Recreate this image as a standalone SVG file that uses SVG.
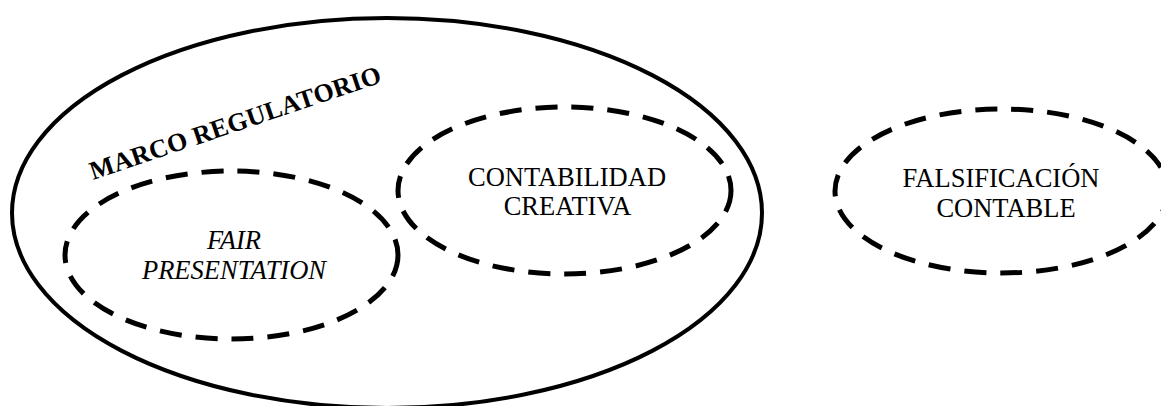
<svg xmlns="http://www.w3.org/2000/svg" width="1161" height="406" viewBox="0 0 1161 406">
  <style>
    .frame { fill: none; stroke: #000; stroke-width: 4; }
    .dash { fill: none; stroke: #000; stroke-width: 5; stroke-dasharray: 22 14; }
    .lbl { font-family: "Liberation Serif", "Times New Roman", serif; font-size: 26.5px; fill: #000; text-anchor: middle; }
    .it { font-style: italic; }
    .title { font-family: "Liberation Serif", "Times New Roman", serif; font-size: 26px; font-weight: bold; fill: #000; }
  </style>
  <rect width="1161" height="406" fill="#fff"/>
  <g id="marco-regulatorio">
    <ellipse class="frame" cx="387" cy="213" rx="375" ry="195"/>
    <text class="title" x="93" y="180" transform="rotate(-18.7 93 180)" textLength="306" lengthAdjust="spacing">MARCO REGULATORIO</text>
  </g>
  <g id="fair-presentation">
    <ellipse class="dash" cx="231.5" cy="255" rx="166.5" ry="84"/>
    <text class="lbl it" x="234" y="249">FAIR</text>
    <text class="lbl it" x="234" y="279">PRESENTATION</text>
  </g>
  <g id="contabilidad-creativa">
    <ellipse class="dash" cx="564.5" cy="190.5" rx="166.5" ry="83.5"/>
    <text class="lbl" x="567" y="186">CONTABILIDAD</text>
    <text class="lbl" x="567.5" y="215">CREATIVA</text>
  </g>
  <g id="falsificacion-contable">
    <ellipse class="dash" cx="1001.5" cy="191" rx="166.5" ry="82"/>
    <text class="lbl" x="1001" y="187">FALSIFICACIÓN</text>
    <text class="lbl" x="1006" y="217">CONTABLE</text>
  </g>
  <g id="connectors"/>
</svg>
